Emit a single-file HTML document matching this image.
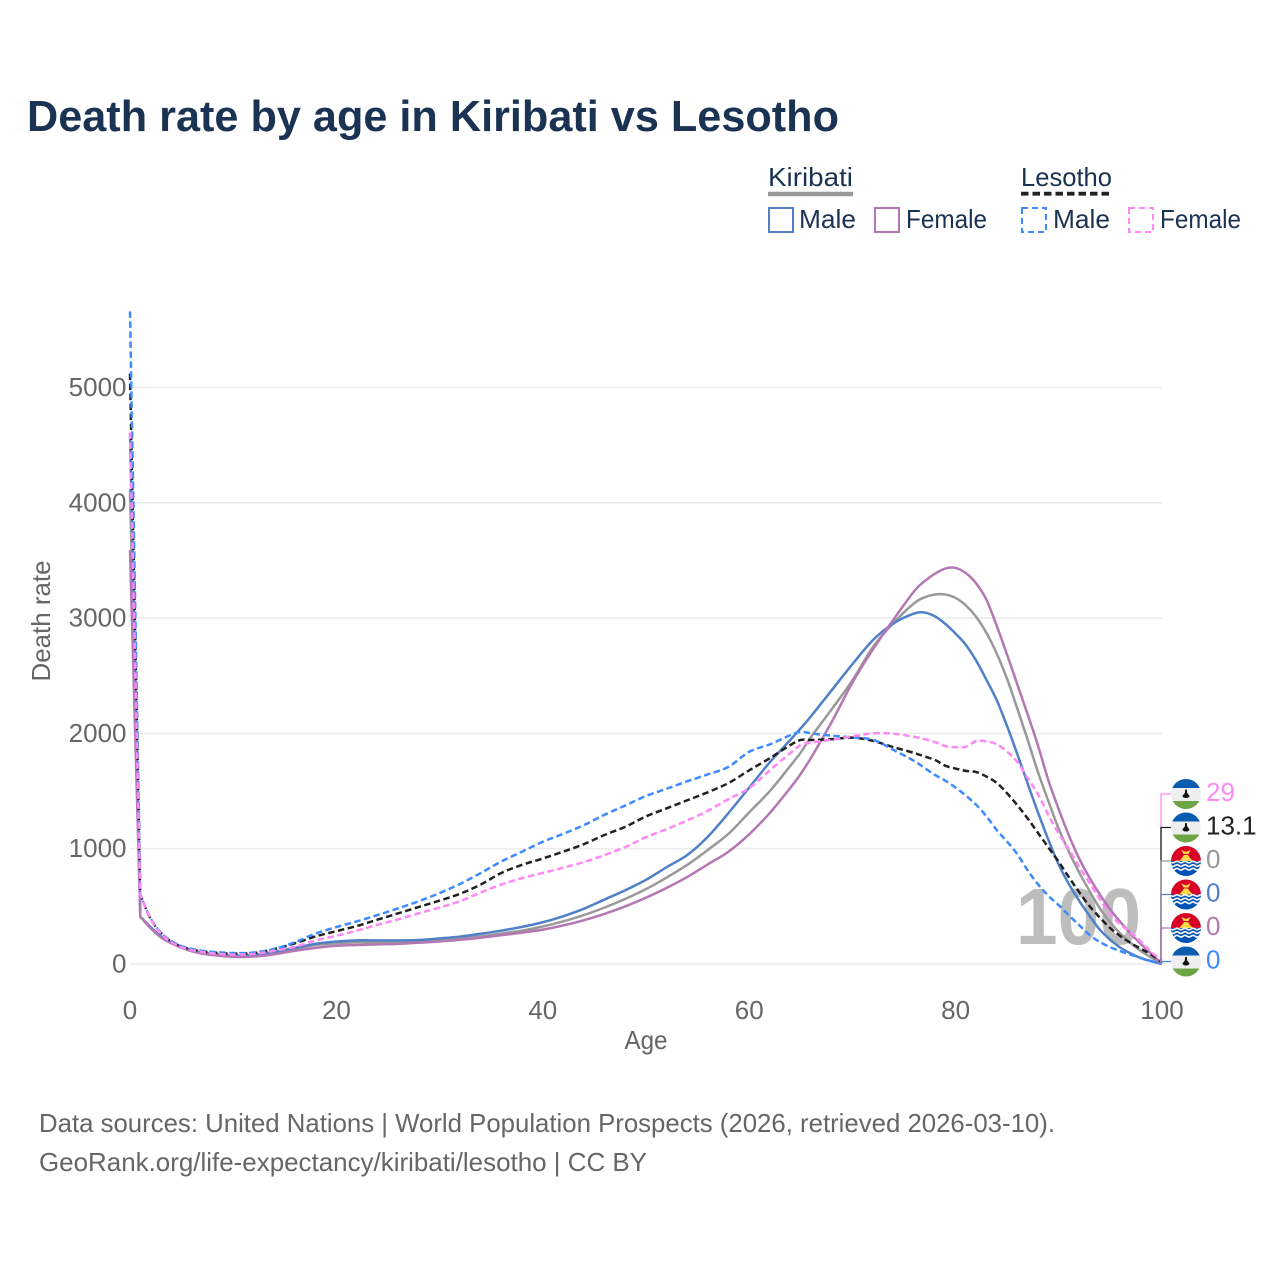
<!DOCTYPE html>
<html lang="en">
<head>
<meta charset="utf-8">
<title>Death rate by age in Kiribati vs Lesotho</title>
<style>
html,body{margin:0;padding:0;background:#fff;}
svg{display:block;font-family:"Liberation Sans",sans-serif;}
</style>
</head>
<body>
<svg id="chart" xmlns="http://www.w3.org/2000/svg" width="1280" height="1280" viewBox="0 0 1280 1280">
  <defs>
    <clipPath id="flag-clip"><circle cx="0" cy="0" r="15"/></clipPath>
    <g id="flag-lesotho" clip-path="url(#flag-clip)">
      <rect x="-15" y="-15" width="30" height="30" fill="#eeeeee"/>
      <rect x="-15" y="-15" width="30" height="9" fill="#0a5cb0"/>
      <rect x="-15" y="7" width="30" height="8" fill="#6da544"/>
      <path d="M-0.8,-4.5 L0.8,-4.5 L1.2,-1 L3.6,2 Q3,4 0,4 Q-3,4 -3.6,2 L-1.2,-1 Z" fill="#111"/>
    </g>
    <g id="flag-kiribati" clip-path="url(#flag-clip)">
      <rect x="-15" y="-15" width="30" height="15" fill="#d80027"/>
      <rect x="-15" y="0" width="30" height="15" fill="#0052b4"/>
      <path d="M-7,0 L-4,-3 L-2,-6 L2,-6 L4,-3 L7,0 Z" fill="#ffda44"/>
      <path d="M-4.5,-11 L0,-9 L4.5,-11 L2.5,-7 L-2.5,-7 Z" fill="#ffda44"/>
      <path d="M-15,1 q2,1.6 4,0 t4,0 t4,0 t4,0 t4,0 t4,0 t4,0 t4,0 M-15,4.6 q2,1.6 4,0 t4,0 t4,0 t4,0 t4,0 t4,0 t4,0 t4,0 M-15,8.2 q2,1.6 4,0 t4,0 t4,0 t4,0 t4,0 t4,0 t4,0 t4,0" fill="none" stroke="#f4f4f4" stroke-width="1.7"/>
    </g>
  </defs>

  <rect x="0" y="0" width="1280" height="1280" fill="#ffffff"/>

  <text x="27" y="131" font-size="44" font-weight="700" fill="#1a3353" textLength="812" lengthAdjust="spacingAndGlyphs">Death rate by age in Kiribati vs Lesotho</text>

  <g>
    <text x="768" y="186" font-size="26" fill="#1a3353" textLength="85" lengthAdjust="spacingAndGlyphs">Kiribati</text>
    <line x1="768" x2="853" y1="194" y2="194" stroke="#999999" stroke-width="4.5"/>
    <text x="1021" y="186" font-size="26" fill="#1a3353" textLength="91" lengthAdjust="spacingAndGlyphs">Lesotho</text>
    <line x1="1021" x2="1112" y1="193.7" y2="193.7" stroke="#222222" stroke-width="3.8" stroke-dasharray="7.5 4"/>

    <g>
      <rect x="769" y="208" width="24" height="24" fill="none" stroke="#5080c8" stroke-width="2"/>
      <text x="799" y="228" font-size="26" fill="#1a3353" textLength="57" lengthAdjust="spacingAndGlyphs">Male</text>
    </g>
    <g>
      <rect x="875" y="208" width="24" height="24" fill="none" stroke="#b378b4" stroke-width="2"/>
      <text x="906" y="228" font-size="26" fill="#1a3353" textLength="81" lengthAdjust="spacingAndGlyphs">Female</text>
    </g>
    <g>
      <rect x="1022" y="208" width="24" height="24" fill="none" stroke="#3e8bff" stroke-width="2" stroke-dasharray="6 4"/>
      <text x="1053" y="228" font-size="26" fill="#1a3353" textLength="57" lengthAdjust="spacingAndGlyphs">Male</text>
    </g>
    <g>
      <rect x="1129" y="208" width="24" height="24" fill="none" stroke="#ff88f5" stroke-width="2" stroke-dasharray="6 4"/>
      <text x="1160" y="228" font-size="26" fill="#1a3353" textLength="81" lengthAdjust="spacingAndGlyphs">Female</text>
    </g>
  </g>

  <g id="grid"></g>
  <g id="yticks"></g>
  <g id="xticks"></g>

  <text x="646" y="1049" font-size="26" fill="#666666" text-anchor="middle" textLength="43" lengthAdjust="spacingAndGlyphs">Age</text>
  <text transform="translate(50,621) rotate(-90)" font-size="26" fill="#666666" text-anchor="middle" textLength="121" lengthAdjust="spacingAndGlyphs">Death rate</text>

  <text x="1141" y="944" font-size="80" font-weight="700" fill="#bdbdbd" text-anchor="end" textLength="125" lengthAdjust="spacingAndGlyphs">100</text>

  <g id="series"></g>
  <g id="connectors"></g>
  <g id="endlabels"></g>

  <text x="39" y="1132" font-size="26" fill="#666666" textLength="1016" lengthAdjust="spacingAndGlyphs">Data sources: United Nations | World Population Prospects (2026, retrieved 2026-03-10).</text>
  <text x="39" y="1171" font-size="26" fill="#666666" textLength="608" lengthAdjust="spacingAndGlyphs">GeoRank.org/life-expectancy/kiribati/lesotho | CC BY</text>
</svg>

<script>
const ages = [0,1,2,3,4,5,6,7,8,10,12,14,16,18,20,22,24,26,28,30,32,34,36,38,40,42,44,46,48,50,52,54,56,58,60,62,64,65,66,68,70,72,74,76,77,78,79,80,81,82,83,84,85,86,87,88,89,90,91,92,93,94,95,96,97,98,99,100];
const kiribatiTotal = [4120,410,320,235,185,145,115,95,82,68,72,95,130,165,180,188,188,188,192,205,220,240,265,290,325,370,425,490,565,650,750,860,990,1130,1315,1500,1720,1835,1970,2210,2460,2750,2960,3130,3180,3205,3205,3175,3110,3010,2870,2690,2470,2210,1940,1660,1410,1170,970,790,630,480,360,260,180,110,55,0];
const kiribatiMale = [4600,410,320,240,190,150,120,100,88,72,78,105,140,175,195,205,205,205,208,222,238,262,290,322,362,415,480,560,640,730,840,945,1105,1310,1530,1750,1945,2045,2150,2375,2600,2810,2955,3040,3048,3015,2950,2865,2767,2630,2463,2285,2060,1815,1560,1310,1075,860,690,545,415,295,210,140,90,50,22,0];
const kiribatiFemale = [3590,410,310,230,180,140,110,90,78,62,65,85,115,140,158,165,170,175,185,195,210,228,250,272,298,335,380,435,500,575,660,755,865,975,1125,1310,1530,1650,1790,2100,2440,2730,2990,3235,3320,3385,3430,3435,3390,3300,3157,2930,2680,2420,2160,1890,1590,1340,1110,910,745,600,470,360,260,170,85,0];
const lesothoTotal = [5120,600,390,270,195,150,125,110,100,90,95,130,180,240,285,330,385,440,495,550,610,690,790,860,915,975,1040,1120,1190,1280,1350,1420,1490,1570,1680,1785,1900,1943,1943,1950,1963,1935,1880,1830,1800,1770,1720,1695,1675,1665,1625,1570,1480,1375,1260,1135,1010,885,750,620,500,400,310,240,180,130,80,13.1];
const lesothoMale = [5660,600,395,270,200,155,130,115,105,95,100,130,190,265,320,370,425,483,545,615,695,790,890,975,1060,1130,1205,1295,1375,1457,1520,1585,1645,1710,1841,1905,1985,2015,2000,1980,1965,1945,1856,1760,1700,1640,1590,1530,1460,1380,1280,1160,1060,950,810,690,590,510,420,335,250,190,145,110,80,50,25,0];
const lesothoFemale = [4610,600,390,265,190,145,120,105,92,82,88,115,150,205,245,290,340,388,440,490,545,620,690,745,790,835,885,945,1015,1100,1170,1245,1330,1430,1525,1680,1830,1899,1920,1945,1975,2000,1998,1970,1950,1925,1890,1880,1885,1934,1930,1905,1840,1750,1610,1470,1290,1130,990,840,700,560,430,340,270,190,100,29];
const xTickValues = [0,20,40,60,80,100];
const yTickValues = [0,1000,2000,3000,4000,5000];

const NS = 'http://www.w3.org/2000/svg';
const xScale = a => 130 + a * 10.32;
const yScale = v => 964 - v * 0.1153;

function make(tag, parent) {
  const el = document.createElementNS(NS, tag);
  parent.appendChild(el);
  return el;
}

const grid = document.getElementById('grid');
const yticks = document.getElementById('yticks');
const xticks = document.getElementById('xticks');

yTickValues.forEach(v => {
  const line = make('line', grid);
  
  
  line.setAttribute('x1', 130);
  line.setAttribute('x2', 1162);
  line.setAttribute('y1', yScale(v));
  line.setAttribute('y2', yScale(v));
  line.setAttribute('stroke', '#ececec');
  line.setAttribute('stroke-width', 1.6);
  const t = make('text', yticks);
  
  
  t.setAttribute('x', 126.5);
  t.setAttribute('y', yScale(v) + 8.5);
  t.setAttribute('font-size', 26);
  t.setAttribute('fill', '#666666');
  t.setAttribute('text-anchor', 'end');
  t.textContent = v;
});

xTickValues.forEach(v => {
  const t = make('text', xticks);
  
  
  t.setAttribute('x', xScale(v));
  t.setAttribute('y', 1019);
  t.setAttribute('font-size', 26);
  t.setAttribute('fill', '#666666');
  t.setAttribute('text-anchor', 'middle');
  t.textContent = v;
});

const seriesGroup = document.getElementById('series');

function smoothPath(values) {
  const pts = values.map((v, i) => [xScale(ages[i]), yScale(v)]);
  let d = 'M' + pts[0][0].toFixed(2) + ',' + pts[0][1].toFixed(2) + ' L' + pts[1][0].toFixed(2) + ',' + pts[1][1].toFixed(2);
  for (let i = 1; i < pts.length - 1; i++) {
    const p0 = i > 1 ? pts[i - 1] : pts[i];
    const p1 = pts[i];
    const p2 = pts[i + 1];
    const p3 = pts[i + 2] || p2;
    const c1x = p1[0] + (p2[0] - p0[0]) / 6;
    const c1y = p1[1] + (p2[1] - p0[1]) / 6;
    const c2x = p2[0] - (p3[0] - p1[0]) / 6;
    const c2y = p2[1] - (p3[1] - p1[1]) / 6;
    d += ' C' + c1x.toFixed(2) + ',' + c1y.toFixed(2) + ' ' + c2x.toFixed(2) + ',' + c2y.toFixed(2) + ' ' + p2[0].toFixed(2) + ',' + p2[1].toFixed(2);
  }
  return d;
}

function drawLine(values, color, dashed, name) {
  const p = make('path', seriesGroup);
  
  
  p.setAttribute('d', smoothPath(values));
  p.setAttribute('fill', 'none');
  p.setAttribute('stroke', color);
  p.setAttribute('stroke-width', 2.5);
  p.setAttribute('stroke-linejoin', 'round');
  if (dashed) p.setAttribute('stroke-dasharray', '6.5 3.5');
}

drawLine(kiribatiTotal, '#999999', false, 'line-kiribati-total');
drawLine(kiribatiMale, '#5080c8', false, 'line-kiribati-male');
drawLine(kiribatiFemale, '#b378b4', false, 'line-kiribati-female');
drawLine(lesothoTotal, '#222222', true, 'line-lesotho-total');
drawLine(lesothoMale, '#3e8bff', true, 'line-lesotho-male');
drawLine(lesothoFemale, '#ff88f5', true, 'line-lesotho-female');

const endEntries = [
  [lesothoFemale, '#ff88f5', 'flag-lesotho', 'lesotho-female'],
  [lesothoTotal, '#222222', 'flag-lesotho', 'lesotho-total'],
  [kiribatiTotal, '#999999', 'flag-kiribati', 'kiribati-total'],
  [kiribatiMale, '#5080c8', 'flag-kiribati', 'kiribati-male'],
  [kiribatiFemale, '#b378b4', 'flag-kiribati', 'kiribati-female'],
  [lesothoMale, '#3e8bff', 'flag-lesotho', 'lesotho-male']
];
const connectorOrder = [5, 0, 1, 3, 2, 4];

const connectors = document.getElementById('connectors');
const endlabels = document.getElementById('endlabels');

connectorOrder.forEach(i => {
  const entry = endEntries[i];
  const last = entry[0][entry[0].length - 1];
  const labelY = 794 + i * 33.5;
  const c = make('path', connectors);
  
  
  c.setAttribute('d', 'M' + xScale(100) + ',' + yScale(last) + ' L1161,' + yScale(last) + ' L1161,' + labelY + ' L1171,' + labelY);
  c.setAttribute('fill', 'none');
  c.setAttribute('stroke', entry[1]);
  c.setAttribute('stroke-width', 1.3);
});

endEntries.forEach((entry, i) => {
  const last = entry[0][entry[0].length - 1];
  const labelY = 794 + i * 33.5;
  const flag = make('use', endlabels);
  
  
  flag.setAttribute('href', '#' + entry[2]);
  flag.setAttribute('transform', 'translate(1186,' + labelY + ')');
  const t = make('text', endlabels);
  
  
  t.setAttribute('x', 1206);
  t.setAttribute('y', labelY + 7);
  t.setAttribute('font-size', 26);
  t.setAttribute('fill', entry[1]);
  t.textContent = last;
});
</script>
</body>
</html>
